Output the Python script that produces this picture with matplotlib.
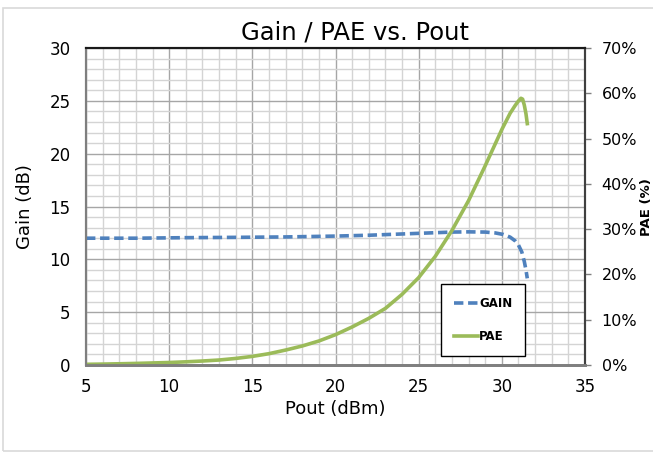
#!/usr/bin/env python3

import matplotlib
matplotlib.use("Agg")
import matplotlib.pyplot as plt
from matplotlib.lines import Line2D
from matplotlib.patches import Rectangle
from matplotlib.ticker import MultipleLocator, PercentFormatter


# Gain curve (dB) vs output power (dBm)
pout_gain = [5, 8, 11, 14, 17, 20, 22, 24, 26, 27, 28, 29, 29.6, 30.1, 30.5,
             30.8, 31.0, 31.2, 31.35, 31.45, 31.53]
gain_db = [12.0, 12.0, 12.05, 12.08, 12.12, 12.2, 12.28, 12.4, 12.52, 12.58,
           12.6, 12.58, 12.5, 12.35, 12.1, 11.75, 11.35, 10.7, 9.8, 9.0, 8.2]

# PAE curve (%) vs output power (dBm)
pout_pae = [5, 6, 7, 8, 9, 10, 11, 12, 13, 14, 15, 16, 17, 18, 19, 20, 21, 22,
            23, 24, 25, 26, 27, 28, 29, 29.5, 30, 30.5, 30.8, 31.0, 31.15,
            31.25, 31.35, 31.45, 31.53]
pae_pct = [0.15, 0.2, 0.27, 0.35, 0.45, 0.55, 0.7, 0.88, 1.1, 1.45, 1.9, 2.5,
           3.3, 4.2, 5.3, 6.7, 8.4, 10.3, 12.5, 15.6, 19.3, 24.0, 29.7, 36.3,
           44.0, 48.0, 52.0, 55.6, 57.3, 58.3, 58.9, 58.7, 57.4, 55.5, 53.3]

x_ticks = [5, 10, 15, 20, 25, 30, 35]
gain_ticks = [0, 5, 10, 15, 20, 25, 30]
pae_ticks = [0, 10, 20, 30, 40, 50, 60, 70]

gain_color = "#4F81BD"
pae_color = "#9BBB59"

# the reference text is a wide sans, DejaVu fits its proportions best
plt.rcParams["font.family"] = ["DejaVu Sans"]

fig = plt.figure(figsize=(6.53, 4.53), dpi=100)
W, H = 653, 453

# light outer frame of the original chart object
fig.patches.append(Rectangle((3 / W, 1 - 451 / H), 1.2, (451 - 8) / H,
                             transform=fig.transFigure, fill=False,
                             edgecolor="#d9d9d9", linewidth=1.2))

ax = fig.add_axes([86 / W, 1 - 365 / H, (585 - 86) / W, (365 - 48) / H])
ax2 = ax.twinx()

ax.set_xlim(5, 35)
ax.set_ylim(0, 30)
ax2.set_ylim(0, 70)

ax.set_xticks(x_ticks)
ax.set_yticks(gain_ticks)
ax.xaxis.set_minor_locator(MultipleLocator(1))
ax.yaxis.set_minor_locator(MultipleLocator(1))
ax.grid(which="major", color="#a6a6a6", linewidth=1.0)
ax.grid(which="minor", color="#d4d4d4", linewidth=1.0)
ax.set_axisbelow(True)

ax.tick_params(which="both", length=0, labelsize=12, colors="black")
ax.tick_params(axis="y", pad=11)
ax.tick_params(axis="x", pad=9)

ax2.set_yticks(pae_ticks)
ax2.yaxis.set_major_formatter(PercentFormatter(decimals=0))
ax2.tick_params(axis="y", length=4, width=1, color="#808080",
                labelsize=11.5, pad=8)

for a in (ax, ax2):
    a.spines["left"].set_color("#7f7f7f")
    a.spines["left"].set_linewidth(1.5)
    a.spines["bottom"].set_color("#7f7f7f")
    a.spines["bottom"].set_linewidth(2.0)
    a.spines["top"].set_color("#1a1a1a")
    a.spines["top"].set_linewidth(1.5)
    a.spines["right"].set_color("#404040")
    a.spines["right"].set_linewidth(1.5)

gain_line, = ax.plot(pout_gain, gain_db, color=gain_color, linewidth=2.6,
                     dashes=(2.6, 1.3), solid_capstyle="butt")
pae_line, = ax2.plot(pout_pae, pae_pct, color=pae_color, linewidth=2.6,
                     solid_joinstyle="round")

ax.set_xlabel("Pout (dBm)", fontsize=13, labelpad=3)
ax.set_ylabel("Gain (dB)", fontsize=13, labelpad=11)

fig.text(355 / W, 1 - 39 / H, "Gain / PAE vs. Pout", fontsize=17.5,
         ha="center", va="baseline")
fig.text(653 / W, 1 - 207 / H, "PAE (%)", fontsize=9.5, fontweight="bold",
         rotation=90, ha="right", va="center")

handles = [Line2D([], [], color=gain_color, linewidth=2.6, dashes=(2.6, 1.3)),
           Line2D([], [], color=pae_color, linewidth=2.6)]
leg = ax2.legend(handles, ["GAIN", "PAE"], loc="center",
                 bbox_to_anchor=(0.796, 0.143), frameon=True, fancybox=False,
                 edgecolor="black", framealpha=1, handlelength=2.0,
                 handletextpad=0.1, labelspacing=1.7, borderpad=1.1,
                 prop={"size": 8.5, "weight": "bold"})
leg.get_frame().set_linewidth(1.0)

fig.savefig("out.png", dpi=100)
